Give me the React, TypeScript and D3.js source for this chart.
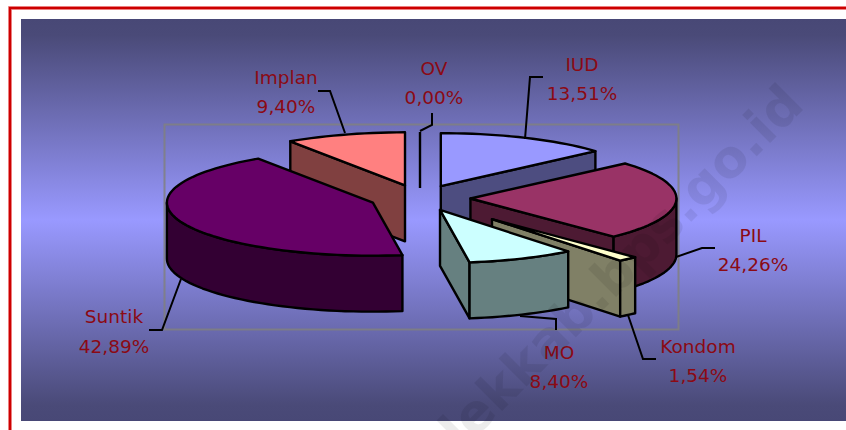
import React from "react";
import * as d3 from "d3";

const categories = ["IUD", "PIL", "Kondom", "MO", "Suntik", "Implan", "OV"];
const shareValues = [13.51, 24.26, 1.54, 8.4, 42.89, 9.4, 0];
const shareLabels = ["13,51%", "24,26%", "1,54%", "8,40%", "42,89%", "9,40%", "0,00%"];
const explodeValues = [0.245, 0.245, 0.53, 0.245, 0.245, 0.25, 0.245];
const topColors = ["#9999ff", "#993366", "#ffffcc", "#ccffff", "#660066", "#ff8080", "#ffffff"];
const sideColors = ["#4d4d80", "#4d1a33", "#808066", "#668080", "#330033", "#804040", "#808080"];
const paintOrder = ["IUD", "Implan", "OV", "PIL", "Kondom", "MO", "Suntik"];

const labelCentres = [582, 753, 698, 559, 114, 286, 434];
const nameBaselines = [71, 242, 353, 359, 323, 84, 75];
const pctBaselines = [100, 271, 382, 388, 353, 113, 104];
const leaderPaths: [number, number][][] = [
  [[543, 77], [530, 77], [525, 139]],
  [[715, 248], [702, 248], [676, 257]],
  [[656, 359], [643, 359], [628, 315]],
  [[556, 330], [556, 319], [520, 316]],
  [[149, 330], [162, 330], [181, 279]],
  [[318, 91], [330, 91], [345, 133]],
  [[432, 113], [432, 125], [420, 131]],
];

const W = 846;
const H = 430;
const CX = 420;
const CY = 198;
const RX = 206;
const RY = 53;
const DEPTH = 56;
const PI = Math.PI;

const px = d3.scaleLinear().domain([-1, 1]).range([CX - RX, CX + RX]);
const py = d3.scaleLinear().domain([-1, 1]).range([CY - RY, CY + RY]);
const lineGen = d3.line<[number, number]>().curve(d3.curveLinear);

const arcs = d3
  .pie<number>()
  .sort(null)
  .startAngle(0)
  .endAngle(2 * PI)(shareValues);

function sampleAngles(a0: number, a1: number): number[] {
  const n = Math.max(2, Math.ceil(Math.abs(a1 - a0) / 0.04));
  return d3.range(n + 1).map((i) => a0 + ((a1 - a0) * i) / n);
}

export default function App() {
  const slices = categories.map((name, i) => {
    const arc = arcs[i];
    const mid = (arc.startAngle + arc.endAngle) / 2;
    const e = explodeValues[i];
    const tipX = px(e * Math.sin(mid));
    const tipY = py(-e * Math.cos(mid));
    const pt = (a: number, dy = 0): [number, number] => [
      tipX + (px(Math.sin(a)) - CX),
      tipY + (py(-Math.cos(a)) - CY) + dy,
    ];
    const tip: [number, number] = [tipX, tipY];
    const tipLow: [number, number] = [tipX, tipY + DEPTH];
    const faces: { d: string; fill: string }[] = [];
    const radial = (a: number) =>
      (lineGen([tip, pt(a), pt(a, DEPTH), tipLow]) as string) + "Z";
    if (Math.sin(arc.startAngle) < -1e-6) faces.push({ d: radial(arc.startAngle), fill: sideColors[i] });
    if (Math.sin(arc.endAngle) > 1e-6) faces.push({ d: radial(arc.endAngle), fill: sideColors[i] });
    const w0 = Math.max(arc.startAngle, PI / 2);
    const w1 = Math.min(arc.endAngle, (3 * PI) / 2);
    if (w1 > w0) {
      const as = sampleAngles(w0, w1);
      const pts = [...as.map((a) => pt(a)), ...as.slice().reverse().map((a) => pt(a, DEPTH))];
      faces.push({ d: (lineGen(pts) as string) + "Z", fill: sideColors[i] });
    }
    const topPts = [tip, ...sampleAngles(arc.startAngle, arc.endAngle).map((a) => pt(a))];
    const top = (lineGen(topPts) as string) + "Z";
    const zero = arc.endAngle - arc.startAngle < 1e-6;
    const ovLine = lineGen([pt(arc.startAngle), pt(arc.startAngle, DEPTH)]) as string;
    return { name, i, faces, top, zero, ovLine };
  });

  const ordered = paintOrder.map((n) => slices[categories.indexOf(n)]);

  return (
    <svg
      width={W}
      height={H}
      viewBox={`0 0 ${W} ${H}`}
      style={{ position: "absolute", left: 0, top: 0, background: "#fff" }}
    >
      <defs>
        <linearGradient id="bg" x1="0" y1="0" x2="0" y2="1">
          <stop offset="0" stopColor="#484876" />
          <stop offset="0.04" stopColor="#4a4a78" />
          <stop offset="0.5" stopColor="#9999ff" />
          <stop offset="0.96" stopColor="#4a4a78" />
          <stop offset="1" stopColor="#484876" />
        </linearGradient>
      </defs>
      <rect x={10} y={8} width={W + 20} height={H + 20} fill="none" stroke="#f4a0a0" strokeWidth={4} />
      <rect x={10} y={8} width={W + 20} height={H + 20} fill="none" stroke="#cc0000" strokeWidth={2.4} />
      <rect x={21} y={19} width={W - 21} height={402} fill="url(#bg)" />
      <rect x={164.5} y={124.5} width={514} height={205} fill="none" stroke="#808080" strokeWidth={2} opacity={0.85} />

      {ordered.map((s) =>
        s.zero ? (
          <path key={s.name} d={s.ovLine} fill="none" stroke="#000" strokeWidth={2.4} />
        ) : (
          <g key={s.name} stroke="#000" strokeWidth={2.4} strokeLinejoin="round">
            {s.faces.map((f, k) => (
              <path key={k} d={f.d} fill={f.fill} />
            ))}
            <path d={s.top} fill={topColors[s.i]} />
          </g>
        )
      )}

      {leaderPaths.map((p, i) => (
        <path key={i} d={lineGen(p) as string} fill="none" stroke="#000" strokeWidth={2} />
      ))}

      <g fontFamily="'DejaVu Sans', Verdana, sans-serif" fontSize={18.5} fill="#8b0a14" textAnchor="middle">
        {categories.map((c, i) => (
          <g key={c}>
            <text x={labelCentres[i]} y={nameBaselines[i]}>{c}</text>
            <text x={labelCentres[i]} y={pctBaselines[i]}>{shareLabels[i]}</text>
          </g>
        ))}
      </g>

      <text
        transform="translate(806,107) rotate(-45)"
        textAnchor="end"
        fontFamily="'DejaVu Sans', Verdana, sans-serif"
        fontWeight="bold"
        fontSize={52}
        fill="#000"
        opacity={0.07}
      >
        lekkab.bps.go.id
      </text>
    </svg>
  );
}
